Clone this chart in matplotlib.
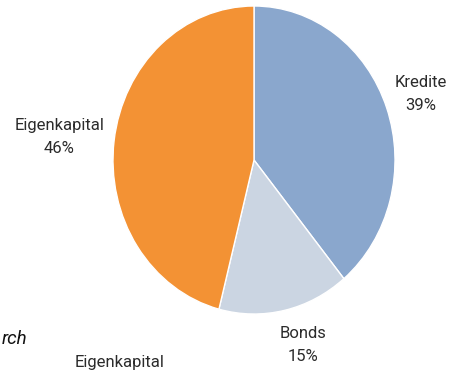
import numpy as np
import matplotlib
matplotlib.use("Agg")
import matplotlib.pyplot as plt

plt.rcParams["font.family"] = ["Roboto", "DejaVu Sans"]

# Finanzierungsstruktur (Anteile in %)
categories = ["Kredite", "Bonds", "Eigenkapital"]
shares = [39, 15, 46]
colors = ["#8aa7cd", "#cbd5e2", "#f39234"]
# label placement (x/y distance factors from the centre)
label_dist = [(1.26, 1.27), (1.6, 1.23), (1.39, 1.2)]

fig = plt.figure(figsize=(4.5, 3.71), dpi=100)
ax = fig.add_axes([0.2511, 0.1536, 0.6267, 0.8302])

wedges, _ = ax.pie(shares, colors=colors, startangle=90, counterclock=False,
                   wedgeprops=dict(edgecolor="white", linewidth=1.0))
ax.set_aspect("auto")
ax.set_xlim(-1, 1)
ax.set_ylim(-1, 1)
ax.axis("off")

for w, name, val, (dx, dy) in zip(wedges, categories, shares, label_dist):
    mid = np.deg2rad((w.theta1 + w.theta2) / 2)
    ax.text(dx * np.cos(mid), dy * np.sin(mid), f"{name}\n{val}%",
            ha="center", va="center", fontsize=12,
            color="#2b2b2b", linespacing=1.65, clip_on=False)

# Quellenangabe / Legende am unteren Rand (abgeschnitten)
fig.text(27 / 450, 1 - 339 / 371, "rch", ha="right", va="center",
         fontsize=13.5, style="italic", color="#111111")
fig.text(75 / 450, 1 - 363 / 371, "Eigenkapital", ha="left", va="center",
         fontsize=12, color="#2b2b2b")

fig.savefig("out.png", dpi=100)
